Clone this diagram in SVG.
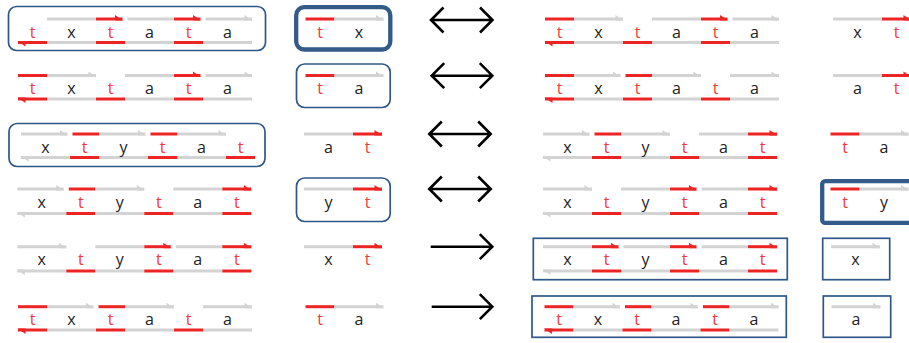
<svg xmlns="http://www.w3.org/2000/svg" width="909" height="343" viewBox="0 0 909 343">
<style>
.g{stroke:#d3d3d3;stroke-width:3;fill:none}
.r{stroke:#ec2424;stroke-width:3;fill:none}
.ga{marker-end:url(#hg)}
.ra{marker-end:url(#hr)}
.box{fill:none;stroke:#2f5888;stroke-width:1.7}
.thick{fill:none;stroke:#335b8a;stroke-width:4.3}
text{font-family:"Open Sans","DejaVu Sans",sans-serif;font-size:16px;text-anchor:middle}
.k{fill:#222}
.t{fill:#f03a3a}
.arr{fill:none;stroke:#000;stroke-width:2.6;stroke-linejoin:miter}
</style>
<defs>
<marker id="hr" markerUnits="userSpaceOnUse" viewBox="-10 -6 12 12" markerWidth="12" markerHeight="12" refX="0" refY="0" orient="auto">
<polygon points="0.5,1.5 -7.5,-4 -7.5,1.5" fill="#ec2424"/>
</marker>
<marker id="hg" markerUnits="userSpaceOnUse" viewBox="-10 -6 12 12" markerWidth="12" markerHeight="12" refX="0" refY="0" orient="auto">
<polygon points="0.5,1.5 -7.5,-4 -7.5,1.5" fill="#d3d3d3"/>
</marker>
</defs>

<!-- Column A -->
<g id="a1">
<rect class="box" x="8.5" y="6.5" width="257" height="44" rx="8"/>
<path class="g" d="M47,19H96"/><path class="r ra" d="M96,19H122.5"/>
<path class="g" d="M127.5,19H174"/><path class="r ra" d="M174,19H200.5"/>
<path class="g ga" d="M205.5,19H252"/>
<path class="r ra" d="M47,42.5H18"/><path class="g" d="M47,42.5H96"/><path class="r" d="M96,42.5H125"/><path class="g" d="M125,42.5H174"/><path class="r" d="M174,42.5H203"/><path class="g" d="M203,42.5H252"/>
<text class="t" x="32.5" y="37.5">t</text><text class="k" x="71.5" y="37.5">x</text><text class="t" x="110.5" y="37.5">t</text><text class="k" x="149.5" y="37.5">a</text><text class="t" x="188.5" y="37.5">t</text><text class="k" x="227.5" y="37.5">a</text>
</g>
<g id="a2">
<path class="r" d="M18,75.5H47"/><path class="g ga" d="M47,75.5H96"/>
<path class="g" d="M125,75.5H174"/><path class="r ra" d="M174,75.5H200.5"/>
<path class="g ga" d="M205.5,75.5H252"/>
<path class="r ra" d="M47,99H18"/><path class="g" d="M47,99H96"/><path class="r" d="M96,99H125"/><path class="g" d="M125,99H174"/><path class="r" d="M174,99H203"/><path class="g" d="M203,99H252"/>
<text class="t" x="32.5" y="94">t</text><text class="k" x="71.5" y="94">x</text><text class="t" x="110.5" y="94">t</text><text class="k" x="149.5" y="94">a</text><text class="t" x="188.5" y="94">t</text><text class="k" x="227.5" y="94">a</text>
</g>
<g id="a3">
<rect class="box" x="9" y="123.5" width="256" height="43" rx="8"/>
<path class="g ga" d="M21,134H67.5"/>
<path class="r" d="M72.5,134H99"/><path class="g ga" d="M99,134H145.5"/>
<path class="r" d="M150.5,134H177"/><path class="g ga" d="M177,134H226"/>
<path class="g ga" d="M70,157.5H21"/><path class="r" d="M70,157.5H99"/><path class="g" d="M99,157.5H148"/><path class="r" d="M148,157.5H177"/><path class="g" d="M177,157.5H226"/><path class="r" d="M226,157.5H255"/>
<text class="k" x="45.5" y="152.5">x</text><text class="t" x="84.5" y="152.5">t</text><text class="k" x="123.5" y="152.5">y</text><text class="t" x="162.5" y="152.5">t</text><text class="k" x="201.5" y="152.5">a</text><text class="t" x="240.5" y="152.5">t</text>
</g>
<g id="a4">
<path class="g ga" d="M17.3,189H63.8"/>
<path class="r" d="M68.8,189H95.3"/><path class="g ga" d="M95.3,189H144.3"/>
<path class="g" d="M173.3,189H222.3"/><path class="r ra" d="M222.3,189H251.3"/>
<path class="g ga" d="M66.3,213.5H17.3"/><path class="r" d="M66.3,213.5H95.3"/><path class="g" d="M95.3,213.5H144.3"/><path class="r" d="M144.3,213.5H173.3"/><path class="g" d="M173.3,213.5H222.3"/><path class="r" d="M222.3,213.5H251.3"/>
<text class="k" x="41.8" y="207.5">x</text><text class="t" x="80.8" y="207.5">t</text><text class="k" x="119.8" y="207.5">y</text><text class="t" x="158.8" y="207.5">t</text><text class="k" x="197.8" y="207.5">a</text><text class="t" x="236.8" y="207.5">t</text>
</g>
<g id="a5">
<path class="g ga" d="M17.3,246.7H66.3"/>
<path class="g" d="M95.3,246.7H144.3"/><path class="r ra" d="M144.3,246.7H170.8"/>
<path class="g" d="M175.8,246.7H222.3"/><path class="r ra" d="M222.3,246.7H251.3"/>
<path class="g ga" d="M66.3,271H17.3"/><path class="r" d="M66.3,271H95.3"/><path class="g" d="M95.3,271H144.3"/><path class="r" d="M144.3,271H173.3"/><path class="g" d="M173.3,271H222.3"/><path class="r" d="M222.3,271H251.3"/>
<text class="k" x="41.8" y="265">x</text><text class="t" x="80.8" y="265">t</text><text class="k" x="119.8" y="265">y</text><text class="t" x="158.8" y="265">t</text><text class="k" x="197.8" y="265">a</text><text class="t" x="236.8" y="265">t</text>
</g>
<g id="a6">
<path class="r" d="M18,306.7H47"/><path class="g ga" d="M47,306.7H93.5"/>
<path class="r" d="M98.5,306.7H125"/><path class="g ga" d="M125,306.7H174"/>
<path class="g ga" d="M203,306.7H252"/>
<path class="r ra" d="M47,330H18"/><path class="g" d="M47,330H96"/><path class="r" d="M96,330H125"/><path class="g" d="M125,330H174"/><path class="r" d="M174,330H203"/><path class="g" d="M203,330H252"/>
<text class="t" x="32.5" y="325">t</text><text class="k" x="71.5" y="325">x</text><text class="t" x="110.5" y="325">t</text><text class="k" x="149.5" y="325">a</text><text class="t" x="188.5" y="325">t</text><text class="k" x="227.5" y="325">a</text>
</g>

<!-- Column B -->
<g id="b1">
<rect class="thick" x="296.2" y="7.2" width="94.1" height="42.3" rx="8"/>
<path class="r" d="M305.5,19H334.5"/><path class="g ga" d="M334.5,19H383.5"/>
<text class="t" x="320" y="37.5">t</text><text class="k" x="359" y="37.5">x</text>
</g>
<g id="b2">
<rect class="box" x="296.5" y="64" width="93.7" height="43.5" rx="8"/>
<path class="r" d="M305.5,75.5H334.5"/><path class="g ga" d="M334.5,75.5H383.5"/>
<text class="t" x="320" y="94">t</text><text class="k" x="359" y="94">a</text>
</g>
<g id="b3">
<path class="g" d="M304,134H353"/><path class="r ra" d="M353,134H382"/>
<text class="k" x="328.5" y="152.5">a</text><text class="t" x="367.5" y="152.5">t</text>
</g>
<g id="b4">
<rect class="box" x="296.5" y="178" width="93.7" height="43.5" rx="8"/>
<path class="g" d="M304,189H353"/><path class="r ra" d="M353,189H382"/>
<text class="k" x="328.5" y="207.5">y</text><text class="t" x="367.5" y="207.5">t</text>
</g>
<g id="b5">
<path class="g" d="M304,246.7H353"/><path class="r ra" d="M353,246.7H382"/>
<text class="k" x="328.5" y="265">x</text><text class="t" x="367.5" y="265">t</text>
</g>
<g id="b6">
<path class="r" d="M305.5,306.7H334.5"/><path class="g ga" d="M334.5,306.7H383.5"/>
<text class="t" x="320" y="325">t</text><text class="k" x="359" y="325">a</text>
</g>

<!-- Column C -->
<g id="c1">
<path class="r" d="M545,19H574"/><path class="g ga" d="M574,19H623"/>
<path class="g" d="M652,19H701"/><path class="r ra" d="M701,19H727.5"/>
<path class="g ga" d="M732.5,19H779"/>
<path class="r ra" d="M574,42.5H545"/><path class="g" d="M574,42.5H623"/><path class="r" d="M623,42.5H652"/><path class="g" d="M652,42.5H701"/><path class="r" d="M701,42.5H730"/><path class="g" d="M730,42.5H779"/>
<text class="t" x="559.5" y="37.5">t</text><text class="k" x="598.5" y="37.5">x</text><text class="t" x="637.5" y="37.5">t</text><text class="k" x="676.5" y="37.5">a</text><text class="t" x="715.5" y="37.5">t</text><text class="k" x="754.5" y="37.5">a</text>
</g>
<g id="c2">
<path class="r" d="M545,75.5H574"/><path class="g ga" d="M574,75.5H620.5"/>
<path class="r" d="M625.5,75.5H652"/><path class="g ga" d="M652,75.5H701"/>
<path class="g ga" d="M730,75.5H779"/>
<path class="r ra" d="M574,99H545"/><path class="g" d="M574,99H623"/><path class="r" d="M623,99H652"/><path class="g" d="M652,99H701"/><path class="r" d="M701,99H730"/><path class="g" d="M730,99H779"/>
<text class="t" x="559.5" y="94">t</text><text class="k" x="598.5" y="94">x</text><text class="t" x="637.5" y="94">t</text><text class="k" x="676.5" y="94">a</text><text class="t" x="715.5" y="94">t</text><text class="k" x="754.5" y="94">a</text>
</g>
<g id="c3">
<path class="g ga" d="M543,134H589.5"/>
<path class="r" d="M594.5,134H621"/><path class="g ga" d="M621,134H670"/>
<path class="g" d="M699,134H748"/><path class="r ra" d="M748,134H777"/>
<path class="g ga" d="M592,157.5H543"/><path class="r" d="M592,157.5H621"/><path class="g" d="M621,157.5H670"/><path class="r" d="M670,157.5H699"/><path class="g" d="M699,157.5H748"/><path class="r" d="M748,157.5H777"/>
<text class="k" x="567.5" y="152.5">x</text><text class="t" x="606.5" y="152.5">t</text><text class="k" x="645.5" y="152.5">y</text><text class="t" x="684.5" y="152.5">t</text><text class="k" x="723.5" y="152.5">a</text><text class="t" x="762.5" y="152.5">t</text>
</g>
<g id="c4">
<path class="g ga" d="M543,189H592"/>
<path class="g" d="M621,189H670"/><path class="r ra" d="M670,189H696.5"/>
<path class="g" d="M701.5,189H748"/><path class="r ra" d="M748,189H777"/>
<path class="g ga" d="M592,213.5H543"/><path class="r" d="M592,213.5H621"/><path class="g" d="M621,213.5H670"/><path class="r" d="M670,213.5H699"/><path class="g" d="M699,213.5H748"/><path class="r" d="M748,213.5H777"/>
<text class="k" x="567.5" y="207.5">x</text><text class="t" x="606.5" y="207.5">t</text><text class="k" x="645.5" y="207.5">y</text><text class="t" x="684.5" y="207.5">t</text><text class="k" x="723.5" y="207.5">a</text><text class="t" x="762.5" y="207.5">t</text>
</g>
<g id="c5">
<rect class="box" x="533.3" y="238.3" width="254" height="41.4" stroke-width="2"/>
<path class="g" d="M543,246.7H592"/><path class="r ra" d="M592,246.7H618.5"/>
<path class="g" d="M623.5,246.7H670"/><path class="r ra" d="M670,246.7H696.5"/>
<path class="g" d="M701.5,246.7H748"/><path class="r ra" d="M748,246.7H777"/>
<path class="g ga" d="M592,271H543"/><path class="r" d="M592,271H621"/><path class="g" d="M621,271H670"/><path class="r" d="M670,271H699"/><path class="g" d="M699,271H748"/><path class="r" d="M748,271H777"/>
<text class="k" x="567.5" y="265">x</text><text class="t" x="606.5" y="265">t</text><text class="k" x="645.5" y="265">y</text><text class="t" x="684.5" y="265">t</text><text class="k" x="723.5" y="265">a</text><text class="t" x="762.5" y="265">t</text>
</g>
<g id="c6">
<rect class="box" x="532" y="296" width="254.3" height="41.3" stroke-width="2"/>
<path class="r" d="M544.5,306.7H573.5"/><path class="g ga" d="M573.5,306.7H620"/>
<path class="r" d="M625,306.7H651.5"/><path class="g ga" d="M651.5,306.7H698"/>
<path class="r" d="M703,306.7H729.5"/><path class="g ga" d="M729.5,306.7H778.5"/>
<path class="r ra" d="M573.5,330H544.5"/><path class="g" d="M573.5,330H622.5"/><path class="r" d="M622.5,330H651.5"/><path class="g" d="M651.5,330H700.5"/><path class="r" d="M700.5,330H729.5"/><path class="g" d="M729.5,330H778.5"/>
<text class="t" x="559" y="325">t</text><text class="k" x="598" y="325">x</text><text class="t" x="637" y="325">t</text><text class="k" x="676" y="325">a</text><text class="t" x="715" y="325">t</text><text class="k" x="754" y="325">a</text>
</g>

<!-- Column D -->
<g id="d1">
<path class="g" d="M833,19H882"/><path class="r ra" d="M882,19H911"/>
<text class="k" x="857.5" y="37.5">x</text><text class="t" x="896.5" y="37.5">t</text>
</g>
<g id="d2">
<path class="g" d="M833,75.5H882"/><path class="r ra" d="M882,75.5H911"/>
<text class="k" x="857.5" y="94">a</text><text class="t" x="896.5" y="94">t</text>
</g>
<g id="d3">
<path class="r" d="M830.5,134H859.5"/><path class="g ga" d="M859.5,134H908.5"/>
<text class="t" x="845" y="152.5">t</text><text class="k" x="884" y="152.5">a</text>
</g>
<g id="d4">
<rect class="thick" x="822.2" y="181.2" width="120" height="41.7" rx="3"/>
<path class="r" d="M830.5,189H859.5"/><path class="g ga" d="M859.5,189H908.5"/>
<text class="t" x="845" y="207.5">t</text><text class="k" x="884" y="207.5">y</text>
</g>
<g id="d5">
<rect class="box" x="822.7" y="238.3" width="67" height="41.4" stroke-width="2"/>
<path class="g ga" d="M831,246.7H880"/>
<text class="k" x="855.5" y="265">x</text>
</g>
<g id="d6">
<rect class="box" x="823.3" y="296" width="67.4" height="41.3" stroke-width="2"/>
<path class="g ga" d="M831.5,306.7H880.5"/>
<text class="k" x="856" y="325">a</text>
</g>

<!-- Connectors -->
<g id="connectors">
<path class="arr" d="M431,20H492.5M443.5,7.5L431,20L443.5,32.5M480,7.5L492.5,20L480,32.5"/>
<path class="arr" d="M431.7,75.7H492.3M444.2,63.2L431.7,75.7L444.2,88.2M479.8,63.2L492.3,75.7L479.8,88.2"/>
<path class="arr" d="M429.3,134H490.7M441.8,121.5L429.3,134L441.8,146.5M478.2,121.5L490.7,134L478.2,146.5"/>
<path class="arr" d="M429.3,189H490.7M441.8,176.5L429.3,189L441.8,201.5M478.2,176.5L490.7,189L478.2,201.5"/>
<path class="arr" d="M430.7,246.7H492.3M479.8,234.2L492.3,246.7L479.8,259.2"/>
<path class="arr" d="M431.7,306.7H492.3M479.8,294.2L492.3,306.7L479.8,319.2"/>
</g>
</svg>
